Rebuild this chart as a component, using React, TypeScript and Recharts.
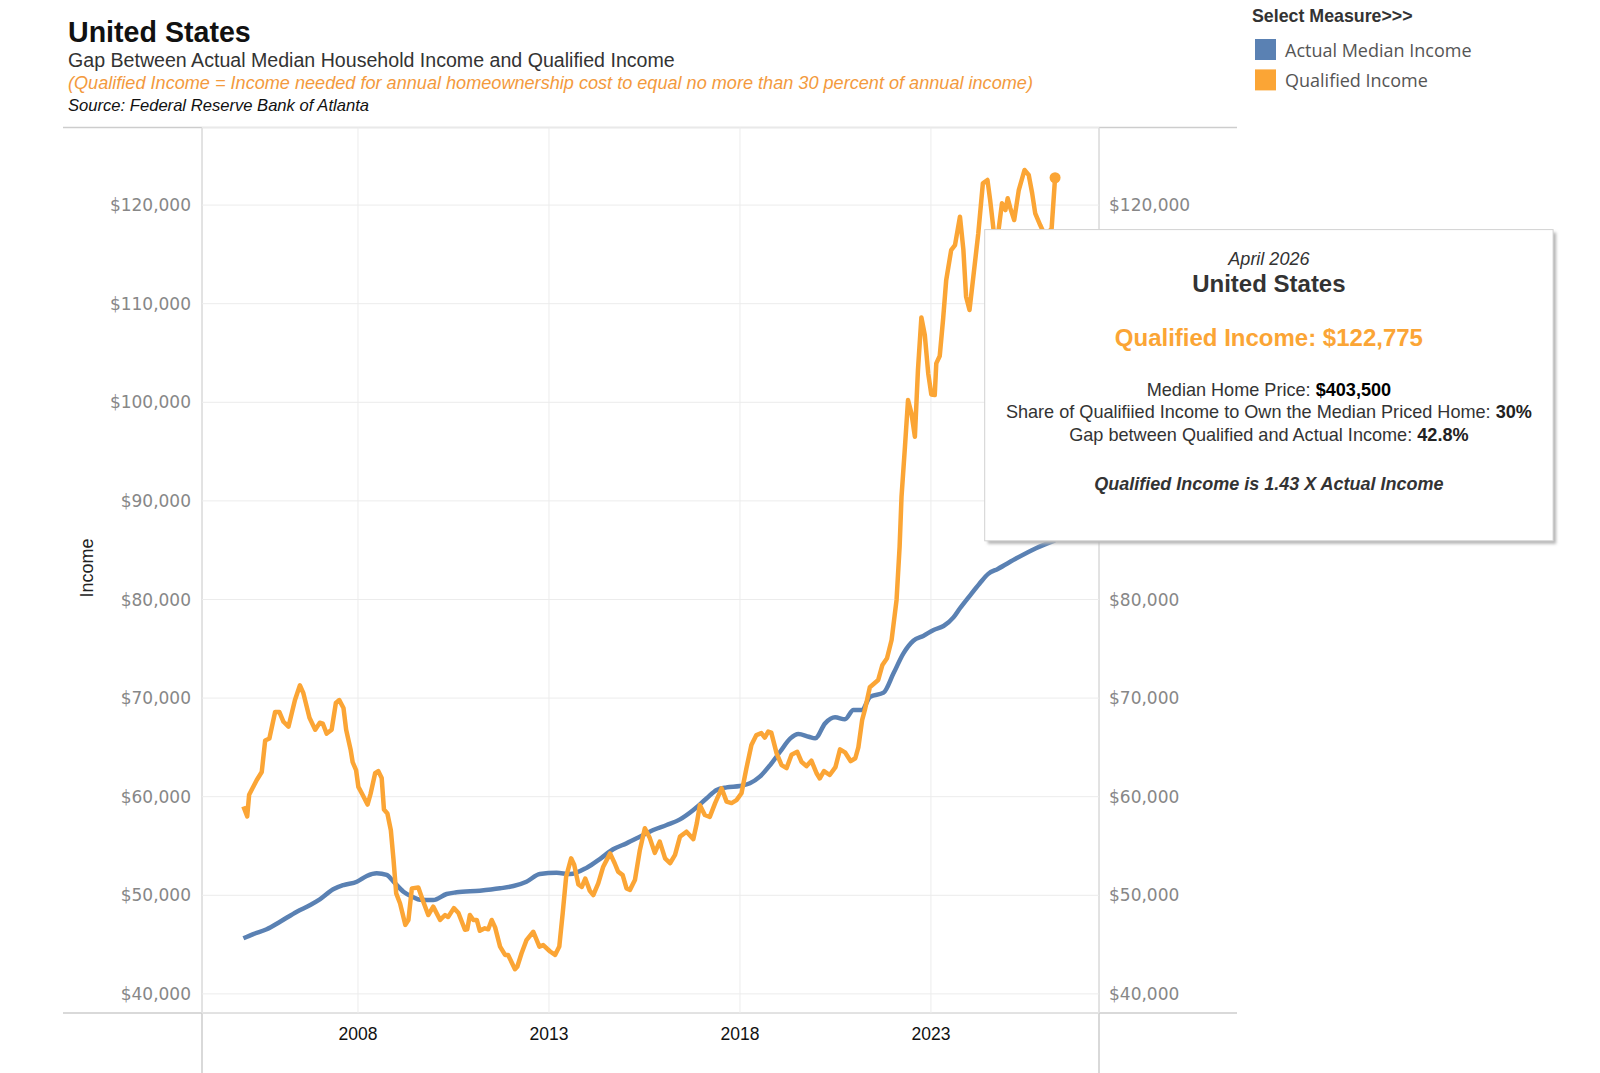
import React from 'react';
import { LineChart, Line, XAxis, YAxis, CartesianGrid } from 'recharts';

// ---- Data ----
const seriesNames = ['Actual Median Income', 'Qualified Income'];
const yearTicks = [2008, 2013, 2018, 2023];
const incomeTicks = [40000, 50000, 60000, 70000, 80000, 90000, 100000, 110000, 120000];
// right-hand labels visible in the reference (the others sit under the tooltip box)
const rightIncomeTicks = [40000, 50000, 60000, 70000, 80000, 120000];

const qualifiedDates = [
  2005.0, 2005.1, 2005.15, 2005.35, 2005.48, 2005.57, 2005.68, 2005.83, 2005.94, 2006.05,
  2006.18, 2006.35, 2006.48, 2006.57, 2006.73, 2006.88, 2007.0, 2007.08, 2007.18, 2007.31,
  2007.42, 2007.51, 2007.62, 2007.69, 2007.81, 2007.86, 2007.95, 2008.01, 2008.12, 2008.25,
  2008.33, 2008.45, 2008.53, 2008.62, 2008.68, 2008.77, 2008.86, 2008.93, 2009.0, 2009.1,
  2009.24, 2009.32, 2009.41, 2009.58, 2009.71, 2009.84, 2009.97, 2010.15, 2010.28, 2010.36,
  2010.51, 2010.63, 2010.8, 2010.86, 2010.93, 2011.02, 2011.11, 2011.19, 2011.32, 2011.41,
  2011.5, 2011.59, 2011.72, 2011.85, 2011.93, 2012.11, 2012.17, 2012.28, 2012.41, 2012.59,
  2012.75, 2012.85, 2013.03, 2013.16, 2013.27, 2013.36, 2013.45, 2013.58, 2013.66, 2013.77,
  2013.86, 2013.95, 2014.07, 2014.16, 2014.29, 2014.42, 2014.6, 2014.72, 2014.81, 2014.93,
  2015.03, 2015.12, 2015.25, 2015.38, 2015.51, 2015.64, 2015.77, 2015.9, 2016.04, 2016.17,
  2016.3, 2016.43, 2016.6, 2016.78, 2016.87, 2016.95, 2017.08, 2017.21, 2017.35, 2017.52,
  2017.65, 2017.78, 2017.91, 2018.04, 2018.17, 2018.3, 2018.43, 2018.56, 2018.65, 2018.74,
  2018.82, 2018.96, 2019.09, 2019.22, 2019.35, 2019.5, 2019.61, 2019.74, 2019.87, 2020.01,
  2020.09, 2020.2, 2020.35, 2020.5, 2020.62, 2020.75, 2020.9, 2021.02, 2021.1, 2021.2,
  2021.27, 2021.4, 2021.62, 2021.73, 2021.85, 2021.97, 2022.1, 2022.18, 2022.23, 2022.32,
  2022.4, 2022.49, 2022.58, 2022.66, 2022.75, 2022.84, 2022.93, 2023.01, 2023.1, 2023.14,
  2023.23, 2023.32, 2023.4, 2023.53, 2023.63, 2023.76, 2023.85, 2023.92, 2024.01, 2024.11,
  2024.24, 2024.36, 2024.48, 2024.55, 2024.64, 2024.7, 2024.77, 2024.86, 2024.95, 2025.01,
  2025.08, 2025.18, 2025.3, 2025.45, 2025.56, 2025.65, 2025.73, 2025.86, 2026.0, 2026.16,
  2026.25,
];
const qualifiedValues = [
  59000, 58000, 60200, 61700, 62500, 65700, 65900, 68600, 68600, 67600,
  67100, 69800, 71300, 70500, 68000, 66800, 67500, 67400, 66400, 66800,
  69500, 69800, 69000, 66800, 64700, 63500, 62700, 61000, 60200, 59200,
  60300, 62400, 62600, 61900, 58700, 58300, 56600, 53600, 50200, 49200,
  47000, 47500, 50700, 50800, 49350, 48000, 48850, 47500, 48000, 47800,
  48700, 48200, 46500, 46550, 48000, 47500, 47500, 46400, 46650, 46550,
  47500, 46750, 44800, 43950, 43950, 42500, 42750, 44100, 45450, 46300,
  44800, 44950, 44300, 43950, 44800, 48200, 51900, 53750, 53100, 51100,
  50850, 51700, 50450, 50030, 51200, 52900, 54250, 53250, 52400, 52050,
  50700, 50550, 51550, 54600, 56800, 55800, 54300, 55450, 53750, 53250,
  54100, 55950, 56450, 55700, 57300, 59150, 58150, 57950, 59350, 60850,
  59500, 59350, 59650, 60350, 62900, 65250, 66250, 66450, 66000, 66600,
  66500, 64400, 63200, 62900, 64250, 64550, 63550, 63100, 63650, 62350,
  61850, 62600, 62200, 63000, 64800, 64500, 63600, 63900, 65000, 67800,
  68800, 71100, 71840, 73360, 74040, 75890, 79950, 85360, 90430, 95500,
  100230, 98880, 96510, 103270, 108600, 106800, 102900, 100800, 100740, 103950,
  104700, 108500, 112400, 115440, 115950, 118820, 115440, 110710, 109360, 112740,
  117140, 122210, 122550, 120520, 117480, 116800, 117480, 120180, 119500, 120690,
  119670, 118490, 121530, 123560, 123050, 121200, 119170, 117980, 116800, 117650,
  122775,
];

const actualDates = [
  2005.0, 2005.26, 2005.61, 2005.96, 2006.4, 2006.75, 2007.0, 2007.35, 2007.62, 2007.97,
  2008.23, 2008.49, 2008.75, 2008.93, 2009.19, 2009.45, 2009.62, 2009.97, 2010.32, 2010.58,
  2011.19, 2011.72, 2012.07, 2012.41, 2012.76, 2013.2, 2013.55, 2013.99, 2014.34, 2014.68,
  2015.03, 2015.38, 2015.73, 2016.08, 2016.43, 2016.78, 2017.13, 2017.39, 2017.65, 2018.0,
  2018.26, 2018.52, 2018.79, 2019.05, 2019.32, 2019.53, 2019.8, 2019.97, 2020.23, 2020.49,
  2020.75, 2020.97, 2021.19, 2021.41, 2021.76, 2022.02, 2022.28, 2022.54, 2022.8, 2023.07,
  2023.33, 2023.59, 2023.76, 2024.0, 2024.27, 2024.5, 2024.75, 2025.25, 2025.75, 2026.25,
];
const actualValues = [
  45640, 46070, 46550, 47320, 48340, 49020, 49590, 50610, 51040, 51380,
  51960, 52230, 52060, 51380, 50370, 49800, 49550, 49520, 50130, 50300,
  50470, 50710, 50940, 51380, 52160, 52290, 52150, 52800, 53700, 54670,
  55270, 55940, 56620, 57130, 57700, 58650, 59840, 60680, 60950, 61090,
  61360, 62030, 63210, 64560, 65920, 66360, 66080, 65920, 67440, 68050,
  67850, 68790, 68790, 70140, 70550, 72510, 74540, 75820, 76300, 76910,
  77310, 78190, 79110, 80300, 81600, 82600, 83100, 84200, 85200, 86000,
];

const qualifiedData = qualifiedDates.map((t, i) => ({ t, v: qualifiedValues[i] }));
const actualData = actualDates.map((t, i) => ({ t, v: actualValues[i] }));

// ---- Styles ----
const BLUE = '#5A81B3';
const ORANGE = '#FBA535';
const SANS = '"Liberation Sans", Arial, sans-serif';
const TICKFONT = '"DejaVu Sans", sans-serif';
const fmtMoney = (v: number) => '$' + v.toLocaleString('en-US');

const LeftTick = (props: any) => {
  const { x, y, payload } = props;
  return (
    <text x={x} y={y} textAnchor="end" dominantBaseline="central" fontFamily={TICKFONT} fontSize={17} fill="#878787">
      {fmtMoney(payload.value)}
    </text>
  );
};
const RightTick = (props: any) => {
  const { x, y, payload } = props;
  return (
    <text x={x} y={y} textAnchor="start" dominantBaseline="central" fontFamily={TICKFONT} fontSize={17} fill="#878787">
      {fmtMoney(payload.value)}
    </text>
  );
};
const BottomTick = (props: any) => {
  const { x, y, payload } = props;
  return (
    <text x={x} y={y + 21} textAnchor="middle" dominantBaseline="central" fontFamily={SANS} fontSize={17.5} fill="#111">
      {payload.value}
    </text>
  );
};

const EndDot = (props: any) => {
  const { cx, cy, index } = props;
  if (index !== qualifiedData.length - 1) return <g key={index} />;
  return <circle key={index} cx={cx} cy={cy} r={5.5} fill={ORANGE} />;
};

export default function App() {
  const tipX = 984.7;
  const tipY = 229.6;
  const tipW = 568.4;
  const tipH = 311.2;
  const tipC = tipX + tipW / 2;
  return (
    <div style={{ position: 'absolute', left: 0, top: 0, width: 1600, height: 1073, background: '#fff', overflow: 'hidden' }}>
      {/* frame lines */}
      <svg width={1600} height={1073} style={{ position: 'absolute', left: 0, top: 0 }}>
        <line x1={63} x2={1237} y1={127.6} y2={127.6} stroke="#cdcdcd" strokeWidth={1.5} />
        <line x1={63} x2={1237} y1={1013} y2={1013} stroke="#cdcdcd" strokeWidth={1.5} />
        <line x1={202} x2={202} y1={127.6} y2={1073} stroke="#cdcdcd" strokeWidth={1.5} />
        <line x1={1099} x2={1099} y1={127.6} y2={1073} stroke="#cdcdcd" strokeWidth={1.5} />
      </svg>

      <div style={{ position: 'absolute', left: 0, top: 0 }}>
        <LineChart width={1600} height={1073} margin={{ top: 127.6, right: 381, bottom: 20, left: 82 }}>
          <CartesianGrid yAxisId="left" stroke="#ececec" strokeWidth={1} />
          <XAxis
            dataKey="t"
            type="number"
            domain={[2003.916, 2027.4]}
            ticks={yearTicks}
            allowDataOverflow
            axisLine={false}
            tickLine={false}
            tickSize={0}
            tickMargin={0}
            height={40}
            tick={<BottomTick />}
            interval={0}
          />
          <YAxis
            yAxisId="left"
            orientation="left"
            type="number"
            domain={[38063, 127860]}
            ticks={incomeTicks}
            allowDataOverflow
            axisLine={false}
            tickLine={false}
            tickSize={0}
            tickMargin={11}
            width={120}
            tick={<LeftTick />}
            interval={0}
          />
          <YAxis
            yAxisId="right"
            orientation="right"
            type="number"
            domain={[38063, 127860]}
            ticks={rightIncomeTicks}
            allowDataOverflow
            axisLine={false}
            tickLine={false}
            tickSize={0}
            tickMargin={10}
            width={120}
            tick={<RightTick />}
            interval={0}
          />
          <Line
            yAxisId="left"
            data={actualData}
            dataKey="v"
            name={seriesNames[0]}
            type="monotone"
            stroke={BLUE}
            strokeWidth={4.5}
            dot={false}
            strokeLinejoin="round"
            isAnimationActive={false}
          />
          <Line
            yAxisId="left"
            data={qualifiedData}
            dataKey="v"
            name={seriesNames[1]}
            type="linear"
            stroke={ORANGE}
            strokeWidth={4.5}
            dot={<EndDot />}
            strokeLinejoin="round"
            isAnimationActive={false}
          />
          <Line
            yAxisId="right"
            data={actualData}
            dataKey="v"
            stroke="none"
            dot={false}
            activeDot={false}
            isAnimationActive={false}
            legendType="none"
          />
        </LineChart>
      </div>

      {/* text + legend + tooltip overlay */}
      <svg width={1600} height={1073} style={{ position: 'absolute', left: 0, top: 0 }}>
        <defs>
          <filter id="tipShadow" x="-5%" y="-5%" width="115%" height="115%">
            <feGaussianBlur stdDeviation="1.6" />
          </filter>
        </defs>

        {/* Titles */}
        <text x={68} y={31.6} dominantBaseline="central" fontFamily={SANS} fontWeight="bold" fontSize={28.6} fill="#111">United States</text>
        <text x={68} y={60.2} dominantBaseline="central" fontFamily={SANS} fontSize={19.6} fill="#333">Gap Between Actual Median Household Income and Qualified Income</text>
        <text x={68} y={82.7} dominantBaseline="central" fontFamily={SANS} fontStyle="italic" fontSize={18.12} fill="#F39A3D">(Qualified Income = Income needed for annual homeownership cost to equal no more than 30 percent of annual income)</text>
        <text x={68} y={105.1} dominantBaseline="central" fontFamily={SANS} fontStyle="italic" fontSize={16.6} fill="#111">Source: Federal Reserve Bank of Atlanta</text>

        {/* Axis title */}
        <text transform="translate(86.7,568) rotate(-90)" textAnchor="middle" dominantBaseline="central" fontFamily={SANS} fontSize={18} fill="#222">Income</text>

        {/* Legend */}
        <text x={1252} y={16.3} dominantBaseline="central" fontFamily={SANS} fontWeight="bold" fontSize={17.8} fill="#333">Select Measure&gt;&gt;&gt;</text>
        <rect x={1255} y={39} width={21} height={21} fill={BLUE} />
        <text x={1285} y={49.5} dominantBaseline="central" fontFamily='"Open Sans", sans-serif' fontSize={18} fill="#555">{seriesNames[0]}</text>
        <rect x={1255} y={69.4} width={21} height={21} fill={ORANGE} />
        <text x={1285} y={79.8} dominantBaseline="central" fontFamily='"Open Sans", sans-serif' fontSize={18} fill="#555">{seriesNames[1]}</text>

        {/* Tooltip */}
        <rect x={tipX + 3} y={tipY + 3} width={tipW} height={tipH} fill="#b5b5b5" filter="url(#tipShadow)" />
        <rect x={tipX} y={tipY} width={tipW} height={tipH} fill="#fff" stroke="#d2d2d2" strokeWidth={1} />
        <text x={tipC} y={259.2} textAnchor="middle" dominantBaseline="central" fontFamily={SANS} fontStyle="italic" fontSize={18} fill="#333">April 2026</text>
        <text x={tipC} y={283.7} textAnchor="middle" dominantBaseline="central" fontFamily={SANS} fontWeight="bold" fontSize={24} fill="#333">United States</text>
        <text x={tipC} y={337.8} textAnchor="middle" dominantBaseline="central" fontFamily={SANS} fontWeight="bold" fontSize={24} fill={ORANGE}>Qualified Income: {fmtMoney(qualifiedValues[qualifiedValues.length - 1])}</text>
        <text x={tipC} y={389.8} textAnchor="middle" dominantBaseline="central" fontFamily={SANS} fontSize={18.1} fill="#333">
          Median Home Price: <tspan fontWeight="bold" fill="#000">$403,500</tspan>
        </text>
        <text x={tipC} y={412.2} textAnchor="middle" dominantBaseline="central" fontFamily={SANS} fontSize={18.1} fill="#333">
          Share of Qualifiied Income to Own the Median Priced Home: <tspan fontWeight="bold" fill="#222">30%</tspan>
        </text>
        <text x={tipC} y={434.7} textAnchor="middle" dominantBaseline="central" fontFamily={SANS} fontSize={18.1} fill="#333">
          Gap between Qualified and Actual Income: <tspan fontWeight="bold" fill="#222">42.8%</tspan>
        </text>
        <text x={tipC} y={483.7} textAnchor="middle" dominantBaseline="central" fontFamily={SANS} fontStyle="italic" fontWeight="bold" fontSize={18} fill="#333">Qualified Income is 1.43 X Actual Income</text>
      </svg>
    </div>
  );
}
